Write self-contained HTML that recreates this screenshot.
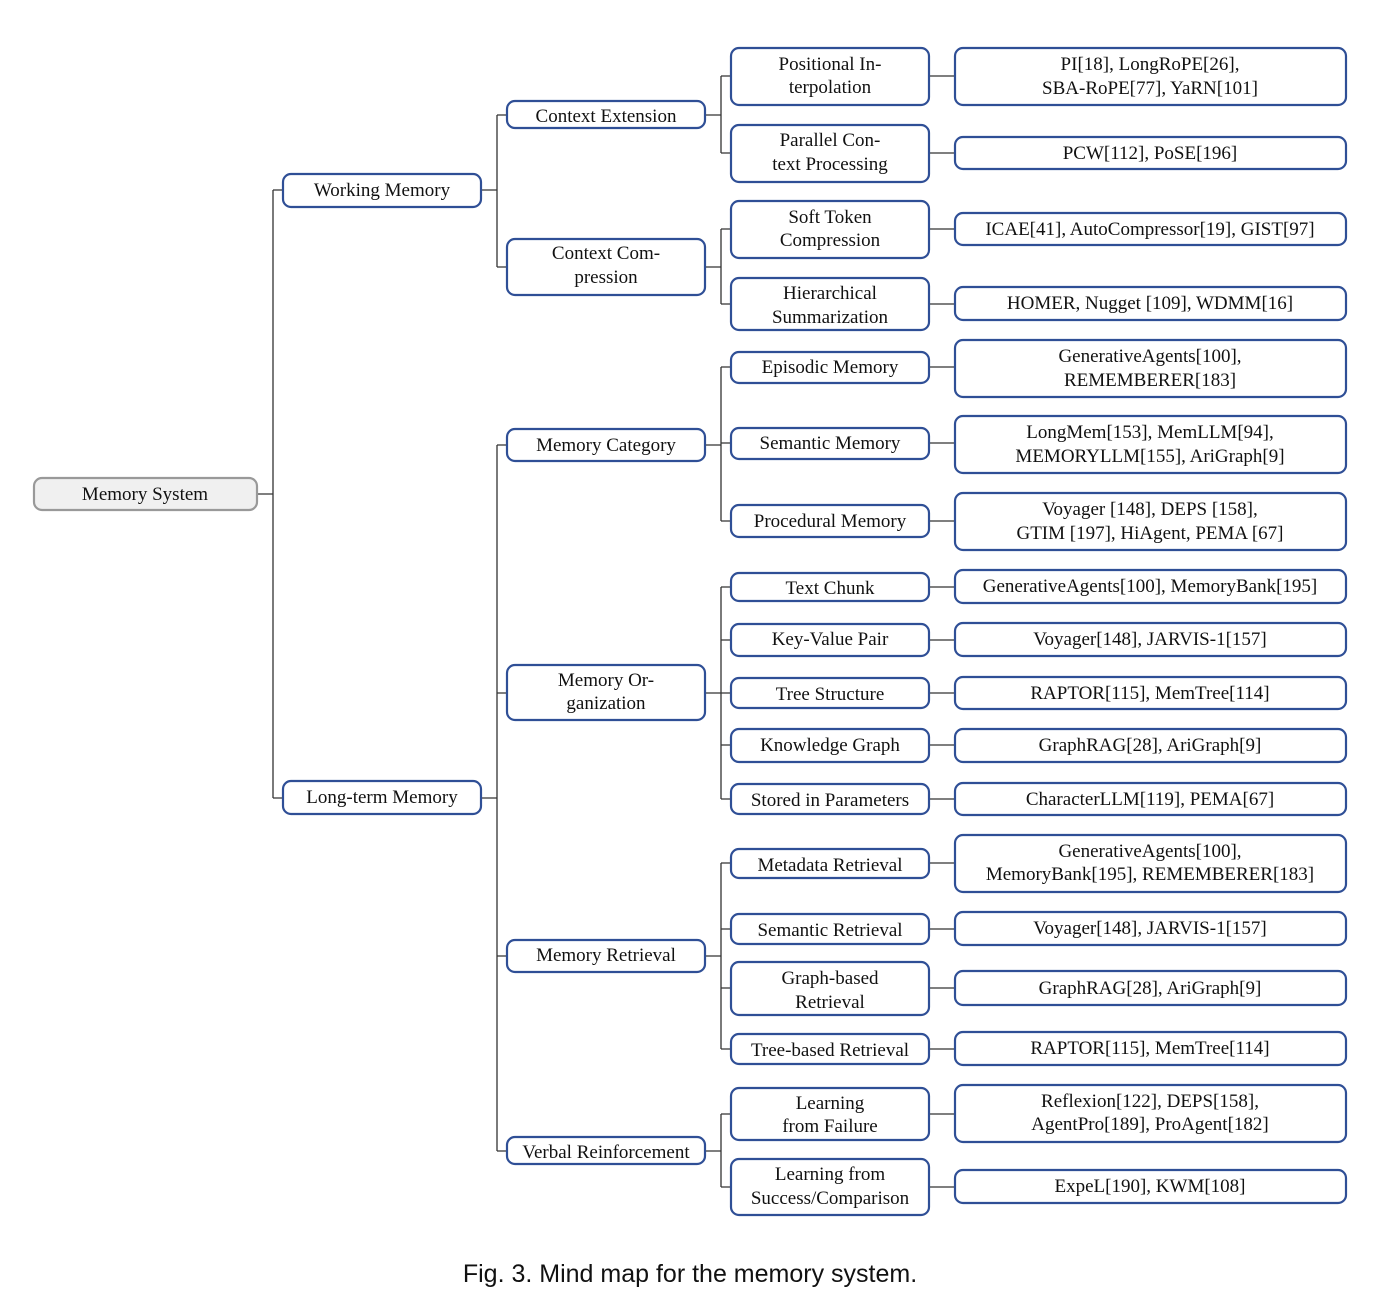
<!DOCTYPE html>
<html><head><meta charset="utf-8"><style>
html,body{margin:0;padding:0;background:#fff;}
svg{display:block;}
text{font-family:"Liberation Serif",serif;font-size:19px;fill:#111;text-anchor:middle;}
.b{fill:#fff;stroke:#2f4f96;stroke-width:2.2;}
.l{stroke:#333;stroke-width:1.3;fill:none;}
</style></head><body>
<svg width="1400" height="1310" viewBox="0 0 1400 1310">
<!-- connectors -->
<path class="l" d="M257 494H273M273 190V798M273 190H283M273 798H283
M481 190H497M497 115V267M497 115H507M497 267H507
M481 798H497M497 445V1151M497 445H507M497 693H507M497 956H507M497 1151H507
M705 115H721M721 76V153M721 76H731M721 153H731
M705 267H721M721 229V304M721 229H731M721 304H731
M705 445H721M721 367V521M721 367H731M721 443H731M721 521H731
M705 693H721M721 587V799M721 587H731M721 640H731M721 693H731M721 745H731M721 799H731
M705 956H721M721 863V1049M721 863H731M721 929H731M721 988H731M721 1049H731
M705 1151H721M721 1114V1187M721 1114H731M721 1187H731
M929 76H955M929 153H955M929 229H955M929 304H955M929 367H955M929 443H955M929 521H955
M929 587H955M929 640H955M929 693H955M929 745H955M929 799H955
M929 863H955M929 929H955M929 988H955M929 1049H955M929 1114H955M929 1187H955"/>
<!-- root -->
<rect x="34" y="478" width="223" height="32" rx="8" fill="#f0f0f0" stroke="#999" stroke-width="2.2"/>
<text x="145" y="500">Memory System</text>
<!-- level1 -->
<rect class="b" x="283" y="174" width="198" height="33" rx="8"/><text x="382" y="196">Working Memory</text>
<rect class="b" x="283" y="781" width="198" height="33" rx="8"/><text x="382" y="803">Long-term Memory</text>
<!-- level2 -->
<rect class="b" x="507" y="101" width="198" height="27" rx="8"/><text x="606" y="122">Context Extension</text>
<rect class="b" x="507" y="239" width="198" height="56" rx="8"/><text x="606" y="259">Context Com-</text><text x="606" y="283">pression</text>
<rect class="b" x="507" y="429" width="198" height="32" rx="8"/><text x="606" y="451">Memory Category</text>
<rect class="b" x="507" y="665" width="198" height="55" rx="8"/><text x="606" y="686">Memory Or-</text><text x="606" y="709">ganization</text>
<rect class="b" x="507" y="940" width="198" height="32" rx="8"/><text x="606" y="961">Memory Retrieval</text>
<rect class="b" x="507" y="1137" width="198" height="27" rx="8"/><text x="606" y="1158">Verbal Reinforcement</text>
<!-- level3 -->
<rect class="b" x="731" y="48" width="198" height="57" rx="8"/><text x="830" y="70">Positional In-</text><text x="830" y="93">terpolation</text>
<rect class="b" x="731" y="125" width="198" height="57" rx="8"/><text x="830" y="146">Parallel Con-</text><text x="830" y="170">text Processing</text>
<rect class="b" x="731" y="201" width="198" height="57" rx="8"/><text x="830" y="223">Soft Token</text><text x="830" y="246">Compression</text>
<rect class="b" x="731" y="278" width="198" height="52" rx="8"/><text x="830" y="299">Hierarchical</text><text x="830" y="323">Summarization</text>
<rect class="b" x="731" y="352" width="198" height="31" rx="8"/><text x="830" y="373">Episodic Memory</text>
<rect class="b" x="731" y="428" width="198" height="31" rx="8"/><text x="830" y="449">Semantic Memory</text>
<rect class="b" x="731" y="505" width="198" height="32" rx="8"/><text x="830" y="527">Procedural Memory</text>
<rect class="b" x="731" y="573" width="198" height="28" rx="8"/><text x="830" y="594">Text Chunk</text>
<rect class="b" x="731" y="624" width="198" height="32" rx="8"/><text x="830" y="645">Key-Value Pair</text>
<rect class="b" x="731" y="678" width="198" height="30" rx="8"/><text x="830" y="700">Tree Structure</text>
<rect class="b" x="731" y="729" width="198" height="33" rx="8"/><text x="830" y="751">Knowledge Graph</text>
<rect class="b" x="731" y="784" width="198" height="30" rx="8"/><text x="830" y="806">Stored in Parameters</text>
<rect class="b" x="731" y="849" width="198" height="29" rx="8"/><text x="830" y="871">Metadata Retrieval</text>
<rect class="b" x="731" y="914" width="198" height="30" rx="8"/><text x="830" y="936">Semantic Retrieval</text>
<rect class="b" x="731" y="962" width="198" height="53" rx="8"/><text x="830" y="984">Graph-based</text><text x="830" y="1008">Retrieval</text>
<rect class="b" x="731" y="1034" width="198" height="30" rx="8"/><text x="830" y="1056">Tree-based Retrieval</text>
<rect class="b" x="731" y="1088" width="198" height="52" rx="8"/><text x="830" y="1109">Learning</text><text x="830" y="1132">from Failure</text>
<rect class="b" x="731" y="1159" width="198" height="56" rx="8"/><text x="830" y="1180">Learning from</text><text x="830" y="1204">Success/Comparison</text>
<!-- level4 -->
<rect class="b" x="955" y="48" width="391" height="57" rx="8"/><text x="1150" y="70">PI[18], LongRoPE[26],</text><text x="1150" y="94">SBA-RoPE[77], YaRN[101]</text>
<rect class="b" x="955" y="137" width="391" height="32" rx="8"/><text x="1150" y="159">PCW[112], PoSE[196]</text>
<rect class="b" x="955" y="213" width="391" height="32" rx="8"/><text x="1150" y="235">ICAE[41], AutoCompressor[19], GIST[97]</text>
<rect class="b" x="955" y="287" width="391" height="33" rx="8"/><text x="1150" y="309">HOMER, Nugget [109], WDMM[16]</text>
<rect class="b" x="955" y="340" width="391" height="57" rx="8"/><text x="1150" y="362">GenerativeAgents[100],</text><text x="1150" y="386">REMEMBERER[183]</text>
<rect class="b" x="955" y="416" width="391" height="57" rx="8"/><text x="1150" y="438">LongMem[153], MemLLM[94],</text><text x="1150" y="462">MEMORYLLM[155], AriGraph[9]</text>
<rect class="b" x="955" y="493" width="391" height="57" rx="8"/><text x="1150" y="515">Voyager [148], DEPS [158],</text><text x="1150" y="539">GTIM [197], HiAgent, PEMA [67]</text>
<rect class="b" x="955" y="570" width="391" height="33" rx="8"/><text x="1150" y="592">GenerativeAgents[100], MemoryBank[195]</text>
<rect class="b" x="955" y="623" width="391" height="33" rx="8"/><text x="1150" y="645">Voyager[148], JARVIS-1[157]</text>
<rect class="b" x="955" y="677" width="391" height="32" rx="8"/><text x="1150" y="699">RAPTOR[115], MemTree[114]</text>
<rect class="b" x="955" y="729" width="391" height="33" rx="8"/><text x="1150" y="751">GraphRAG[28], AriGraph[9]</text>
<rect class="b" x="955" y="783" width="391" height="32" rx="8"/><text x="1150" y="805">CharacterLLM[119], PEMA[67]</text>
<rect class="b" x="955" y="835" width="391" height="57" rx="8"/><text x="1150" y="857">GenerativeAgents[100],</text><text x="1150" y="880">MemoryBank[195], REMEMBERER[183]</text>
<rect class="b" x="955" y="912" width="391" height="33" rx="8"/><text x="1150" y="934">Voyager[148], JARVIS-1[157]</text>
<rect class="b" x="955" y="971" width="391" height="34" rx="8"/><text x="1150" y="994">GraphRAG[28], AriGraph[9]</text>
<rect class="b" x="955" y="1032" width="391" height="33" rx="8"/><text x="1150" y="1054">RAPTOR[115], MemTree[114]</text>
<rect class="b" x="955" y="1085" width="391" height="57" rx="8"/><text x="1150" y="1107">Reflexion[122], DEPS[158],</text><text x="1150" y="1130">AgentPro[189], ProAgent[182]</text>
<rect class="b" x="955" y="1170" width="391" height="33" rx="8"/><text x="1150" y="1192">ExpeL[190], KWM[108]</text>
<!-- caption -->
<text x="690" y="1282" style="font-family:'Liberation Sans',sans-serif;font-size:25px;">Fig. 3.  Mind map for the memory system.</text>
</svg>
</body></html>
